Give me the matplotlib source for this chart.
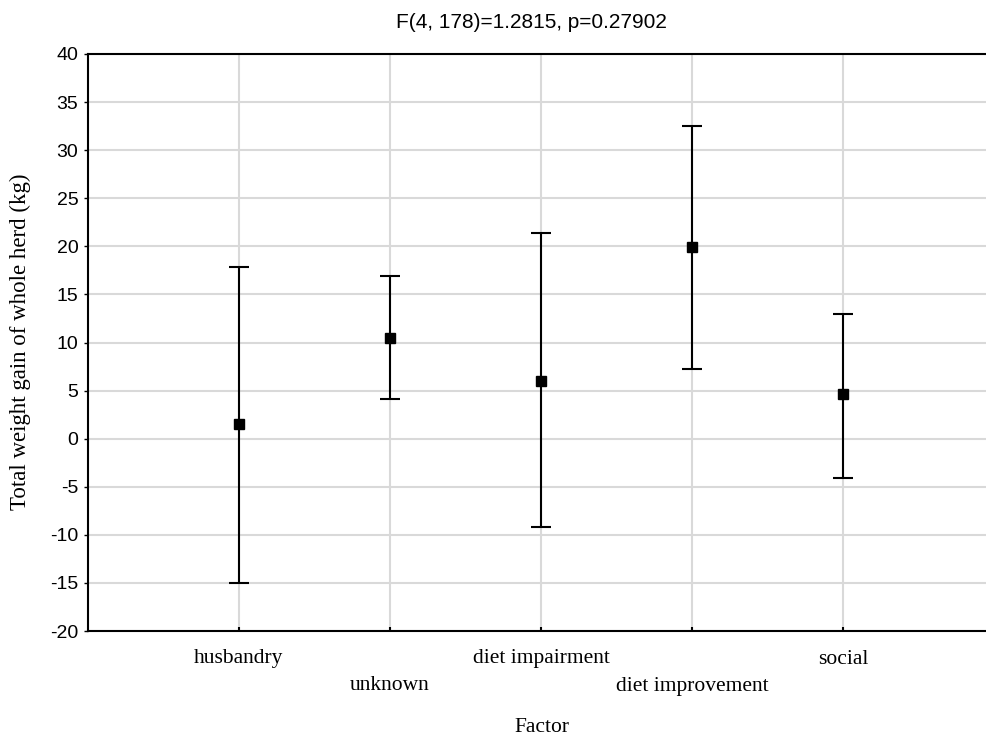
import numpy as np
import matplotlib
matplotlib.use("Agg")
import matplotlib.pyplot as plt

# ---------------- DATA ----------------

factors = ["husbandry", "unknown", "diet impairment", "diet improvement", "social"]
means = [1.5, 10.5, 6.0, 19.9, 4.6]
upper = [17.9, 16.9, 21.4, 32.5, 13.0]
lower = [-15.0, 4.1, -9.2, 7.2, -4.1]

yticks = list(range(-20, 45, 5))

# ---------------- PLOT ----------------

plt.rcParams["axes.unicode_minus"] = False

fig = plt.figure(figsize=(9.87, 7.38), dpi=100)
ax = fig.add_axes([88 / 987, 1 - 631 / 738, 906 / 987, 577 / 738])

x = np.arange(1, len(factors) + 1)
means = np.array(means)
err = [means - np.array(lower), np.array(upper) - means]

ax.errorbar(x, means, yerr=err, fmt="s", color="black", ms=7,
            elinewidth=1.5, capsize=7, capthick=1.5, zorder=3)

ax.set_xlim(0, 6)
ax.set_ylim(-20, 40)
ax.set_yticks(yticks)
ax.set_xticks(x)
ax.set_xticklabels([])

ax.grid(True, color="#d9d9d9", lw=1.5, zorder=0)
ax.set_axisbelow(True)

for s in ["left", "bottom", "top"]:
    ax.spines[s].set_linewidth(1.5)
ax.spines["right"].set_visible(False)

ax.tick_params(axis="y", direction="out", length=3, width=1,
               labelsize=14, pad=4)
ax.tick_params(axis="x", direction="in", length=3, width=1.5)
for lab in ax.get_yticklabels():
    lab.set_family("Liberation Sans")

# staggered category labels
for i, name in enumerate(factors):
    dy = 0 if i % 2 == 0 else 27
    ax.annotate(name, xy=(x[i], 0), xycoords=("data", "axes fraction"),
                xytext=(0, -28 - dy), textcoords="offset pixels",
                ha="center", va="center", family="Liberation Serif",
                fontsize=15.5)

fig.text(542 / 987, 1 - 727 / 738, "Factor", ha="center", va="center",
         family="Liberation Serif", fontsize=15.5)
fig.text(20 / 987, 1 - 342 / 738, "Total weight gain of whole herd (kg)",
         rotation=90, ha="center", va="center",
         family="Liberation Serif", fontsize=16.5)
fig.text(531 / 987, 1 - 22 / 738, "F(4, 178)=1.2815, p=0.27902",
         ha="center", va="center", family="Liberation Sans", fontsize=15)

fig.savefig("out.png", dpi=100)
